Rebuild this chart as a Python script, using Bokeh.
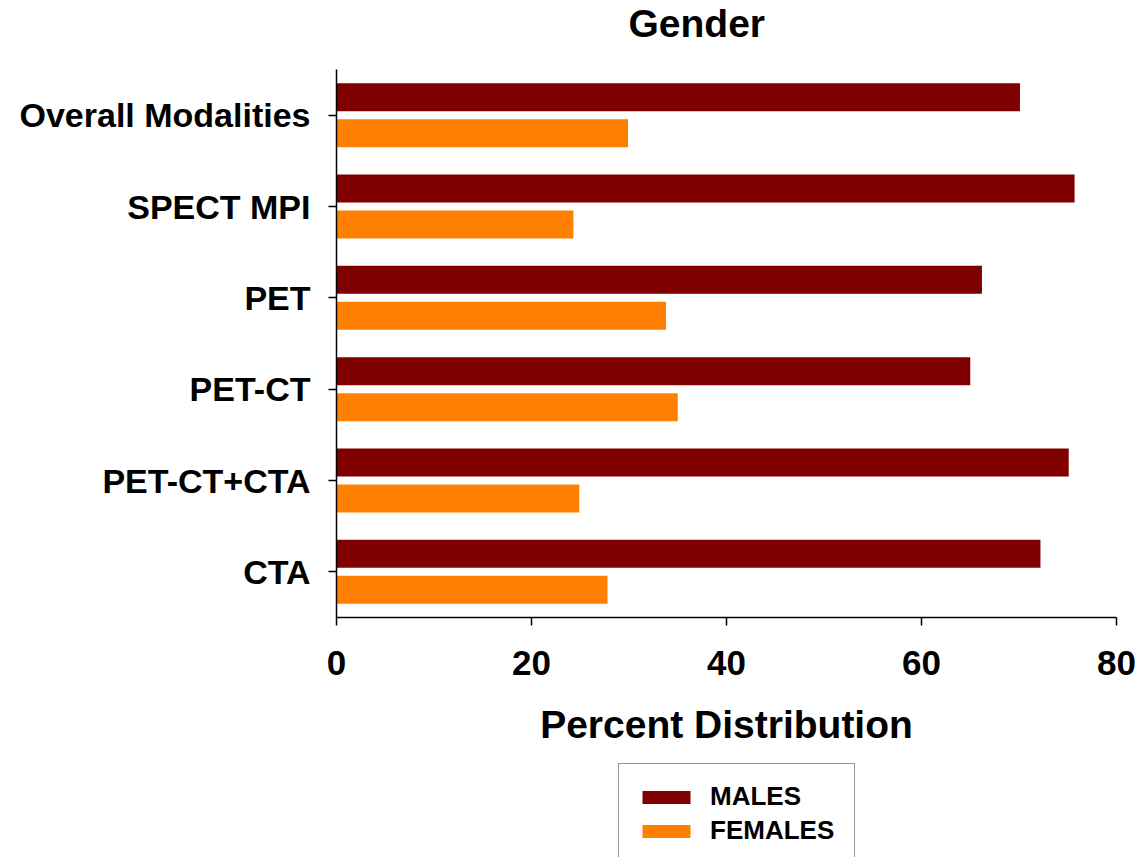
from bokeh.plotting import figure
from bokeh.models import ColumnDataSource, FactorRange, Range1d, Legend, LegendItem
from bokeh.layouts import column
from bokeh.transform import dodge
from bokeh.embed import file_html
from bokeh.resources import INLINE

categories = ["Overall Modalities", "SPECT MPI", "PET", "PET-CT", "PET-CT+CTA", "CTA"]
males = [70.1, 75.7, 66.2, 65.0, 75.1, 72.2]
females = [29.9, 24.3, 33.8, 35.0, 24.9, 27.8]
x_ticks = [0, 20, 40, 60, 80]
series_names = ["MALES", "FEMALES"]
series_colors = ["#800000", "#FF8000"]

FONT = "Liberation Sans"

src = ColumnDataSource(dict(cat=categories, males=males, females=females))


def blank_strip(height):
    f = figure(
        width=1140, height=height,
        x_range=Range1d(0, 1), y_range=Range1d(0, 1),
        output_backend="svg", toolbar_location=None,
        min_border_left=0, min_border_right=0, min_border_top=0, min_border_bottom=0,
    )
    f.axis.visible = False
    f.xgrid.visible = False
    f.ygrid.visible = False
    f.outline_line_color = None
    f.background_fill_color = "white"
    f.border_fill_color = "white"
    return f


# title strip
p0 = blank_strip(69)
p0.title.text = "Gender"
p0.title.text_font = FONT
p0.title.text_font_style = "bold"
p0.title.text_font_size = "39px"
p0.title.text_color = "black"
p0.title.align = "left"
p0.title.offset = 292
p0.title.vertical_align = "top"
p0.title.standoff = 2

# main chart
p = figure(
    width=1140, height=693,
    y_range=FactorRange(factors=list(reversed(categories))),
    x_range=Range1d(0, 80),
    output_backend="svg", toolbar_location=None,
    min_border_left=336, min_border_right=24, min_border_top=0, min_border_bottom=145,
)

p.hbar(y=dodge("cat", 0.197, range=p.y_range), right="males", left=0, height=0.307,
       source=src, fill_color=series_colors[0], line_color=None)
p.hbar(y=dodge("cat", -0.197, range=p.y_range), right="females", left=0, height=0.307,
       source=src, fill_color=series_colors[1], line_color=None)

p.xgrid.visible = False
p.ygrid.visible = False
p.outline_line_color = None
p.background_fill_color = "white"
p.border_fill_color = "white"

p.xaxis.ticker = x_ticks
p.xaxis.axis_label = "Percent Distribution"
p.xaxis.axis_label_text_font = FONT
p.xaxis.axis_label_text_font_style = "bold"
p.xaxis.axis_label_text_font_size = "39px"
p.xaxis.axis_label_standoff = 25
p.xaxis.major_label_text_font = FONT
p.xaxis.major_label_text_font_style = "bold"
p.xaxis.major_label_text_font_size = "35px"
p.xaxis.major_label_standoff = 25
p.xaxis.minor_tick_line_color = None

p.yaxis.major_label_text_font = FONT
p.yaxis.major_label_text_font_style = "bold"
p.yaxis.major_label_text_font_size = "34px"
p.yaxis.major_label_standoff = 18

for ax in (p.xaxis, p.yaxis):
    ax.axis_line_color = "black"
    ax.axis_line_width = 1.5
    ax.major_tick_line_color = "black"
    ax.major_tick_line_width = 1.5
    ax.major_tick_out = 8
    ax.major_tick_in = 0
    ax.major_label_text_color = "black"
    ax.axis_label_text_color = "black"

# legend strip (frame aligned with the chart frame)
p2 = blank_strip(95)

# hidden proxy renderers that only supply the legend swatches
leg_renderers = []
for col, c in zip(["males", "females"], series_colors):
    r = p2.hbar(y=col, left=col, right=col, height=0.3, source=src,
                fill_color=c, line_color=None)
    r.visible = False
    leg_renderers.append(r)

legend = Legend(
    items=[LegendItem(label=n, renderers=[r]) for n, r in zip(series_names, leg_renderers)],
    location=(282, -7),
    orientation="vertical",
    glyph_width=60, glyph_height=16,
    label_text_font=FONT, label_text_font_style="bold", label_text_font_size="26px",
    label_text_color="black",
    label_standoff=14, label_width=127, label_height=30,
    spacing=3, padding=17, margin=0,
    border_line_color="#303030", border_line_width=1,
    background_fill_color="white",
)
p2.add_layout(legend, "center")

layout = column(p0, p, p2, spacing=0)
open("out.html", "w").write(file_html(layout, INLINE))
